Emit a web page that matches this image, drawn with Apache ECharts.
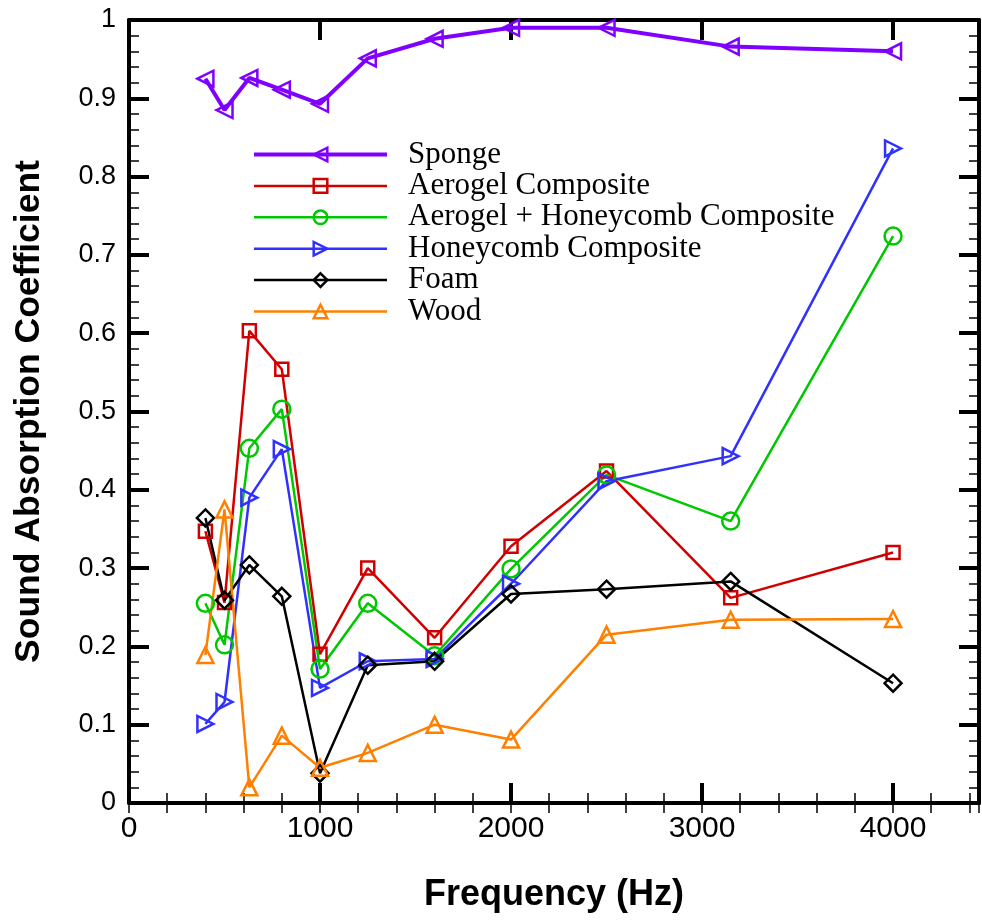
<!DOCTYPE html>
<html>
<head>
<meta charset="utf-8">
<script src="https://cdn.jsdelivr.net/npm/echarts@6/dist/echarts.min.js"></script>
<style>
  html, body { margin: 0; padding: 0; background: #fff; }
  #chart { width: 982px; height: 920px; }
</style>
</head>
<body>
<div id="chart"></div>
<script>
// Frequencies (Hz) at which absorption was measured
const frequencies = [400, 500, 630, 800, 1000, 1250, 1600, 2000, 2500, 3150, 4000];

// Sound absorption coefficient per material
const sponge         = [0.925, 0.885, 0.926, 0.911, 0.893, 0.951, 0.976, 0.990, 0.990, 0.966, 0.960];
const aerogel        = [0.347, 0.256, 0.603, 0.554, 0.190, 0.300, 0.211, 0.328, 0.424, 0.262, 0.320];
const aerogelHoney   = [0.255, 0.202, 0.453, 0.503, 0.171, 0.255, 0.188, 0.299, 0.419, 0.360, 0.724];
const honeycomb      = [0.101, 0.129, 0.390, 0.452, 0.147, 0.181, 0.184, 0.280, 0.411, 0.443, 0.836];
const foam           = [0.364, 0.259, 0.304, 0.264, 0.038, 0.176, 0.181, 0.267, 0.273, 0.283, 0.153];
const wood           = [0.189, 0.375, 0.020, 0.086, 0.045, 0.064, 0.100, 0.081, 0.215, 0.234, 0.235];

const seriesNames = ['Sponge', 'Aerogel Composite', 'Aerogel + Honeycomb Composite',
                     'Honeycomb Composite', 'Foam', 'Wood'];

const X_MAX = 4450;
const SANS = '"Liberation Sans", Arial, sans-serif';
const SERIF = '"Liberation Serif", "Times New Roman", serif';

function pairs(values) {
  return frequencies.map((f, i) => [f, values[i]]);
}

function makeSeries(name, values, color, symbol, size, rotate, width) {
  return {
    name: name,
    type: 'line',
    xAxisIndex: 0,
    yAxisIndex: 0,
    data: pairs(values),
    symbol: symbol,
    symbolSize: size,
    symbolRotate: rotate,
    showAllSymbol: true,
    lineStyle: { color: color, width: width },
    itemStyle: { color: 'rgba(255,255,255,0)', borderColor: color, borderWidth: 2.5 },
    emphasis: { disabled: true },
    animation: false,
    z: 3
  };
}

// Axis helpers: a major-tick axis and a minor-tick companion on each side
function majorX(position, showLabels) {
  return {
    type: 'value', position: position, min: 0, max: X_MAX, interval: 1000,
    axisLine: { show: true, onZero: false, lineStyle: { color: '#000', width: 4 } },
    axisTick: { show: true, inside: true, length: 20, lineStyle: { color: '#000', width: 4 } },
    axisLabel: { show: showLabels, showMaxLabel: false, margin: 11, color: '#000',
                 fontSize: 30, fontFamily: SANS, formatter: v => String(v) },
    splitLine: { show: false }
  };
}
function minorX(position) {
  return {
    type: 'value', position: position, min: 0, max: X_MAX, interval: 200,
    axisLine: { show: false },
    axisTick: { show: true, inside: true, length: 10, lineStyle: { color: '#000', width: 1.5 } },
    axisLabel: { show: false },
    splitLine: { show: false }
  };
}
function yAxis(position, showLabels) {
  return {
    type: 'value', position: position, min: 0, max: 1, interval: 0.1,
    axisLine: { show: true, onZero: false, lineStyle: { color: '#000', width: 4 } },
    axisTick: { show: true, inside: true, length: 20, lineStyle: { color: '#000', width: 4 } },
    minorTick: { show: true, splitNumber: 5, length: 10, lineStyle: { color: '#000', width: 1.5 } },
    axisLabel: { show: showLabels, margin: 13, color: '#000', fontSize: 27, fontFamily: SANS,
                 formatter: v => (v === 0 || v === 1) ? String(v) : v.toFixed(1) },
    splitLine: { show: false }
  };
}

const chart = echarts.init(document.getElementById('chart'), null, { renderer: 'canvas' });

const xBottom = majorX('bottom', true);
xBottom.name = 'Frequency (Hz)';
xBottom.nameLocation = 'middle';
xBottom.nameGap = 74;
xBottom.nameTextStyle = { color: '#000', fontSize: 36, fontWeight: 'bold', fontFamily: SANS };

const yLeft = yAxis('left', true);
yLeft.name = 'Sound Absorption Coefficient';
yLeft.nameLocation = 'middle';
yLeft.nameGap = 82;
yLeft.nameTextStyle = { color: '#000', fontSize: 35.5, fontWeight: 'bold', fontFamily: SANS };

const yRight = yAxis('right', false);

chart.setOption({
  backgroundColor: '#fff',
  animation: false,
  grid: { left: 129, right: 3, top: 20, bottom: 117, containLabel: false },
  xAxis: [xBottom, minorX('bottom'), majorX('top', false), minorX('top')],
  yAxis: [yLeft, yRight],
  legend: {
    orient: 'vertical',
    left: 247,
    top: 134,
    itemWidth: 133,
    itemHeight: 17,
    itemGap: 0.4,
    data: seriesNames,
    selectedMode: false,
    lineStyle: { width: 'inherit' },
    itemStyle: { borderWidth: 'inherit' },
    textStyle: { color: '#000', fontSize: 31, fontFamily: SERIF, lineHeight: 30,
                 padding: [0, 0, 0, 16] }
  },
  series: [
    makeSeries(seriesNames[0], sponge,       '#7f00ff', 'triangle', 16, 90, 4),
    makeSeries(seriesNames[1], aerogel,      '#d00000', 'rect',     13, 0, 2.5),
    makeSeries(seriesNames[2], aerogelHoney, '#00c800', 'circle',   17, 0, 2.5),
    makeSeries(seriesNames[3], honeycomb,    '#3030ff', 'triangle', 16, -90, 2.5),
    makeSeries(seriesNames[4], foam,         '#000000', 'diamond',  17, 0, 2.5),
    makeSeries(seriesNames[5], wood,         '#ff8000', 'triangle', 16, 0, 2.5)
  ]
});
</script>
</body>
</html>
